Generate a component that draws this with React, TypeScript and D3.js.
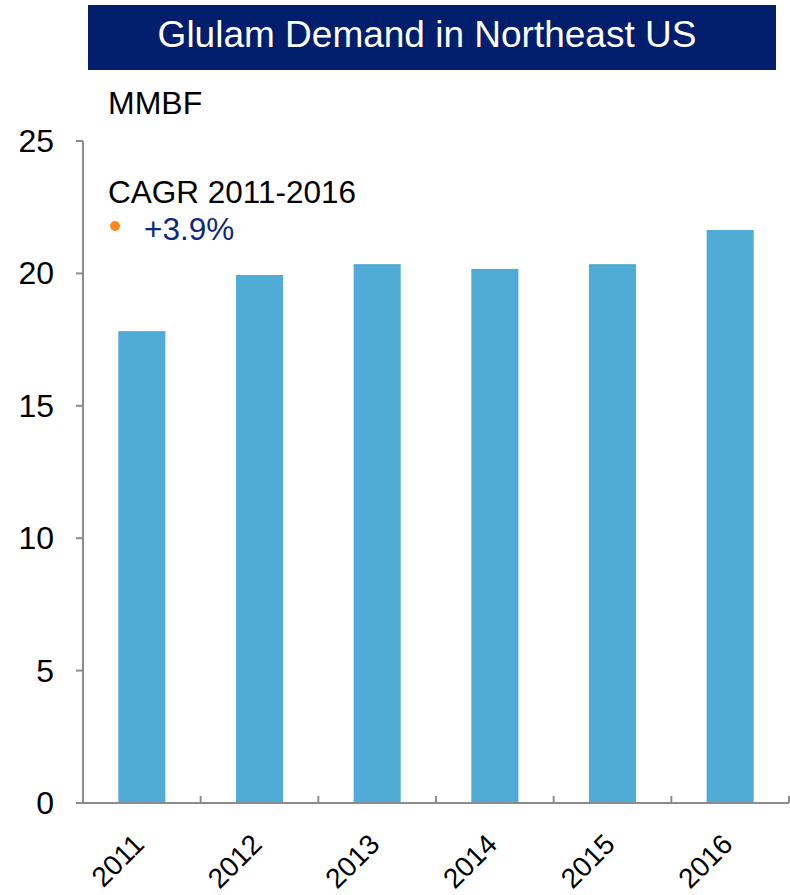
import React from "react";
import * as d3 from "d3";

const years = ["2011", "2012", "2013", "2014", "2015", "2016"];
const demand = [17.82, 19.94, 20.35, 20.17, 20.35, 21.64];
const yTicks = [0, 5, 10, 15, 20, 25];

const W = 790;
const H = 895;
const left = 83;
const right = 789;
const top = 141;
const bottom = 803;

export default function App() {
  const x = d3.scaleBand<string>().domain(years).range([left, right]).paddingInner(0.6).paddingOuter(0.3);
  const band = d3.scaleBand<string>().domain(years).range([left, right]);
  const y = d3.scaleLinear().domain([0, 25]).range([bottom, top]);
  const font = "'Liberation Sans', Arial, sans-serif";
  const axisColor = "#8c8c8c";
  return (
    <svg width={W} height={H} style={{ position: "absolute", left: 0, top: 0, background: "#fff" }} fontFamily={font}>
      <rect x={88} y={5} width={688} height={65} fill="#001e6c" />
      <text x={427} y={47} fill="#fff" fontSize={37} textAnchor="middle">Glulam Demand in Northeast US</text>
      <text x={108} y={114} fontSize={32} fill="#000">MMBF</text>
      <text x={108} y={203} fontSize={31.5} fill="#000">CAGR 2011-2016</text>
      <circle cx={115} cy={226} r={5} fill="#ff8a1c" />
      <text x={144} y={240} fontSize={31.5} fill="#0d2a7a">+3.9%</text>
      {years.map((yr, i) => (
        <rect key={yr} x={x(yr)} y={y(demand[i])} width={x.bandwidth()} height={bottom - y(demand[i])} fill="#51acd5" />
      ))}
      <line x1={left} x2={left} y1={top} y2={bottom} stroke={axisColor} strokeWidth={2} />
      {yTicks.map((t) => (
        <g key={t}>
          <line x1={left - 7} x2={left} y1={y(t)} y2={y(t)} stroke={axisColor} strokeWidth={2} />
          <text x={54} y={y(t) + 11} fontSize={32} textAnchor="end" fill="#000">{t}</text>
        </g>
      ))}
      <line x1={left - 7} x2={right} y1={bottom} y2={bottom} stroke={axisColor} strokeWidth={2} />
      {years.map((yr) => (
        <line key={yr} x1={(band(yr) as number) + band.bandwidth()} x2={(band(yr) as number) + band.bandwidth()} y1={bottom} y2={bottom - 7} stroke={axisColor} strokeWidth={2} />
      ))}
      {years.map((yr) => {
        const cx = (band(yr) as number) + band.bandwidth() / 2 + 4;
        return (
          <text key={yr} transform={`translate(${cx},${bottom + 43}) rotate(-45)`} fontSize={28} textAnchor="end" fill="#000">{yr}</text>
        );
      })}
    </svg>
  );
}
